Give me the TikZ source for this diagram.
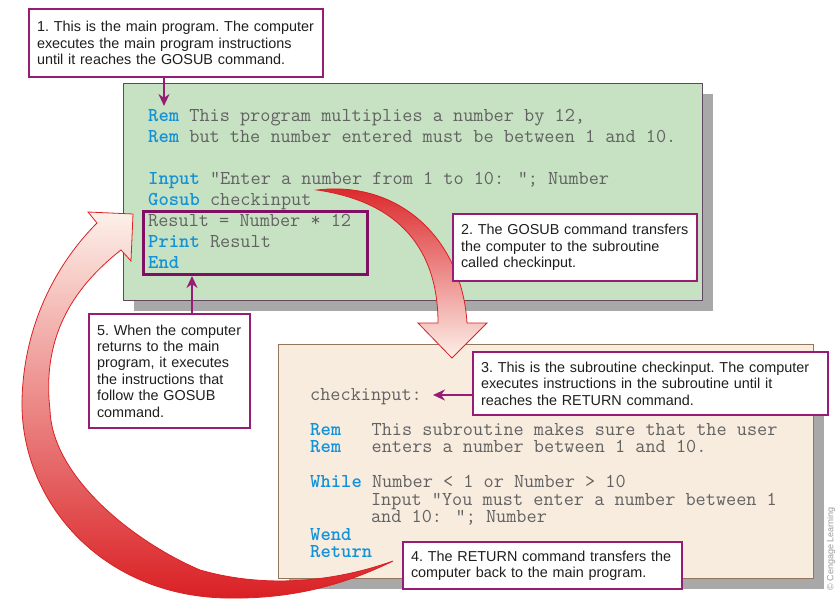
\documentclass[tikz,border=0pt]{standalone}
\usepackage{fontspec}
\setsansfont{Liberation Sans}
\usepackage{tikz}
\usetikzlibrary{positioning,arrows.meta,calc,shapes,shadows}

\definecolor{notepurple}{RGB}{150,28,118}
\definecolor{boxpurple}{RGB}{128,14,98}
\definecolor{maingreen}{RGB}{199,226,194}
\definecolor{mainedge}{RGB}{96,72,96}
\definecolor{subbeige}{RGB}{248,236,223}
\definecolor{subedge}{RGB}{148,118,92}
\definecolor{shadowgray}{RGB}{168,168,168}
\definecolor{kwblue}{RGB}{18,146,216}
\definecolor{codegray}{RGB}{98,98,98}
\definecolor{flowred}{RGB}{218,32,36}
\definecolor{flowmid}{RGB}{240,128,96}
\definecolor{flowpale}{RGB}{253,240,233}

% keywords of the BASIC listings
\newcommand{\kw}[1]{\textcolor{kwblue}{\bfseries #1}}

\tikzset{
    >={Stealth[length=12pt,width=11pt]},
    note/.style = {
        draw=notepurple,
        fill=white,
        shape=rectangle,
        line width=2pt,
        anchor=north west,
        align=left,
        inner xsep=8pt,
        inner ysep=0pt,
        text=black!88,
        font=\sffamily\fontsize{14.4}{16.4}\selectfont,
        execute at begin node={\frenchspacing\hyphenpenalty=10000}
    },
    codebox/.style = {
        shape=rectangle,
        anchor=north west,
        line width=1.2pt,
        drop shadow={shadow xshift=10pt, shadow yshift=-10pt,
                     fill=shadowgray, opacity=1}
    },
    code/.style = {
        anchor=north west,
        align=left,
        inner sep=0pt,
        text=codegray,
        font=\ttfamily\fontsize{19.7}{21}\selectfont
    },
    pointer/.style = {
        draw=notepurple,
        line width=2.5pt,
        ->
    },
    flow/.style = {
        draw=flowred,
        line width=0.8pt
    }
}

\begin{document}
\begin{tikzpicture}[x=1pt, y=-1pt]
    \useasboundingbox (0,0) rectangle (837,599);

    % main program
    \node[codebox, fill=maingreen, draw=mainedge, minimum width=579pt, minimum height=217pt] (mainprog) at (123,83) {};
    \node[code] (maincode) at (148,109) {%
        \kw{Rem} This program multiplies a number by 12,\\
        \kw{Rem} but the number entered must be between 1 and 10.\\[21pt]
        \kw{Input} "Enter a number from 1 to 10: "; Number\\
        \kw{Gosub} checkinput\\
        Result = Number * 12\\
        \kw{Print} Result\\
        \kw{End}};
    \node[draw=boxpurple, line width=3pt, anchor=north west, minimum width=224pt, minimum height=63pt] (afterbox) at (142,210) {};

    % subroutine
    \node[codebox, fill=subbeige, draw=subedge, minimum width=535pt, minimum height=234pt] (subprog) at (278,344) {};
    \node[code, font=\ttfamily\fontsize{19.7}{17.5}\selectfont] (subcode) at (310,388) {%
        checkinput:\\[17.5pt]
        \kw{Rem}~~~This subroutine makes sure that the user\\
        \kw{Rem}~~~enters a number between 1 and 10.\\[17.5pt]
        \kw{While} Number < 1 or Number > 10\\
        \hphantom{While }Input "You must enter a number between 1\\
        \hphantom{While }and 10: "; Number\\
        \kw{Wend}\\
        \kw{Return}};

    % jump into the subroutine
    \path[flow, top color=flowred, middle color=flowmid, bottom color=flowpale]
        (317,190) .. controls (400,180) and (462,240) .. (467,323)
        -- (487,323) -- (452,358) -- (418,323) -- (438,323)
        .. controls (438,250) and (400,202) .. (317,190) -- cycle;

    % jump back to the main program
    \path[flow, top color=flowpale, middle color=flowmid, bottom color=flowred]
        (393,561) .. controls (330,592) and (275,599) .. (225,598)
        .. controls (100,595) and (20,500) .. (22,400)
        .. controls (24,320) and (60,260) .. (97,223)
        -- (88,212) -- (133,214) -- (131,261) -- (121,250)
        .. controls (70,290) and (42,340) .. (50,410)
        .. controls (52,475) and (130,540) .. (200,570)
        .. controls (270,590) and (340,580) .. (393,561) -- cycle;

    % callouts
    \node[note, text width=278pt, minimum height=68pt] (note1) at (28,8)
        {1. This is the main program. The computer\\
         executes the main program instructions\\
         until it reaches the GOSUB command.};
    \node[note, text width=228pt, minimum height=67pt] (note2) at (452,213)
        {2. The GOSUB command transfers\\
         the computer to the subroutine\\
         called checkinput.};
    \node[note, text width=339pt, minimum height=63pt] (note3) at (472,351)
        {3. This is the subroutine checkinput. The computer\\
         executes instructions in the subroutine until it\\
         reaches the RETURN command.};
    \node[note, text width=263pt, minimum height=47pt] (note4) at (402,541)
        {4. The RETURN command transfers the\\
         computer back to the main program.};
    \node[note, text width=145pt, minimum height=114pt] (note5) at (88,313)
        {5. When the computer\\
         returns to the main\\
         program, it executes\\
         the instructions that\\
         follow the GOSUB\\
         command.};

    \coordinate (entry) at (164,106);
    \coordinate (chkin) at (433,395);
    \coordinate (resume) at (192,276);
    \path[pointer] (note1.south -| entry) -- (entry);
    \path[pointer] (note3.west |- chkin) -- (chkin);
    \path[pointer] (note5.north -| resume) -- (resume);

    \node[rotate=90, text=black!40, font=\sffamily\fontsize{9}{10}\selectfont] (credit) at (831,549)
        {\textcopyright{} Cengage Learning};
\end{tikzpicture}
\end{document}
